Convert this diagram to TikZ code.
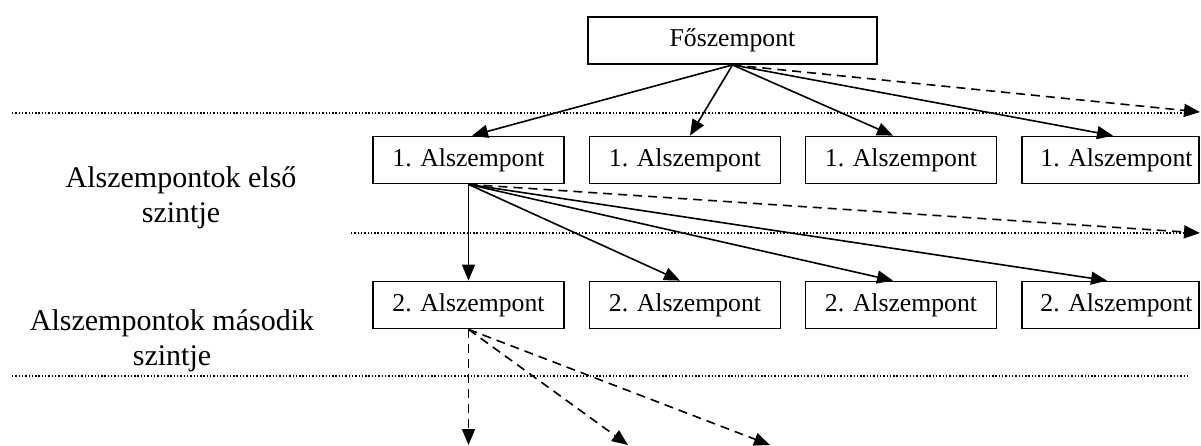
\documentclass[tikz,border=0pt]{standalone}
\usepackage{fontspec}
\setmainfont{Liberation Serif}
\usetikzlibrary{arrows.meta}
\begin{document}
\begin{tikzpicture}[x=1pt,y=-1pt,
 box/.style={draw,line width=1.8pt,minimum width=191pt,minimum height=47pt,inner sep=0pt,font=\fontsize{25.7}{30}\selectfont},
 lastbox/.style={box,minimum width=177pt},
 arr/.style={line width=1.6pt,-{Triangle[length=16pt,width=13pt]}},
 darr/.style={arr,dash pattern=on 9pt off 6pt},
 sep/.style={line width=1.2pt,dash pattern=on 1.4pt off 1.9pt},
 lab/.style={anchor=base,font=\fontsize{30}{35}\selectfont}]
\useasboundingbox (0,0) rectangle (1201,445);
% separator lines
\draw[sep] (12,113) -- (1190,113);
\draw[sep] (351,233) -- (1190,233);
\draw[sep] (12,376) -- (1190,376);
% labels
\node[lab] (l1a) at (181,187) {Alszempontok első};
\node[lab] (l1b) at (181,222) {szintje};
\node[lab] (l2a) at (172,330) {Alszempontok második};
\node[lab] (l2b) at (172,365) {szintje};
% boxes
\node[box,minimum width=289pt] (m) at (732.5,40.5) {Főszempont};
\node[box] (a1) at (468.5,160) {1. Alszempont};
\node[box] (a2) at (685,160) {1. Alszempont};
\node[box] (a3) at (901,160) {1. Alszempont};
\node[lastbox] (a4) at (1110.5,160) {\hspace*{12pt}1. Alszempont};
\node[box] (b1) at (468.5,305) {2. Alszempont};
\node[box] (b2) at (685,305) {2. Alszempont};
\node[box] (b3) at (901,305) {2. Alszempont};
\node[lastbox] (b4) at (1110.5,305) {\hspace*{12pt}2. Alszempont};
% free ends
\coordinate (e1) at (1200,112);
\coordinate (e2) at (1200,233);
\coordinate (e3) at (468.5,445);
\coordinate (e4) at (628,445);
\coordinate (e5) at (770,445);
% arrows level 0 -> 1
\draw[arr] (m.south) -- ([xshift=3.5pt]a1.north);
\draw[arr] (m.south) -- ([xshift=5pt]a2.north);
\draw[arr] (m.south) -- ([xshift=-8pt]a3.north);
\draw[arr] (m.south) -- ([xshift=2.5pt]a4.north);
\draw[darr] (m.south) -- (e1);
% arrows level 1 -> 2
\draw[arr] (a1.south) -- (b1.north);
\draw[arr] (a1.south) -- ([xshift=-5pt]b2.north);
\draw[arr] (a1.south) -- ([xshift=-8pt]b3.north);
\draw[arr] (a1.south) -- ([xshift=-3.5pt]b4.north);
\draw[darr] (a1.south) -- (e2);
% arrows level 2 -> 3
\draw[darr] (b1.south) -- (e3);
\draw[darr] (b1.south) -- (e4);
\draw[darr] (b1.south) -- (e5);
\end{tikzpicture}
\end{document}
